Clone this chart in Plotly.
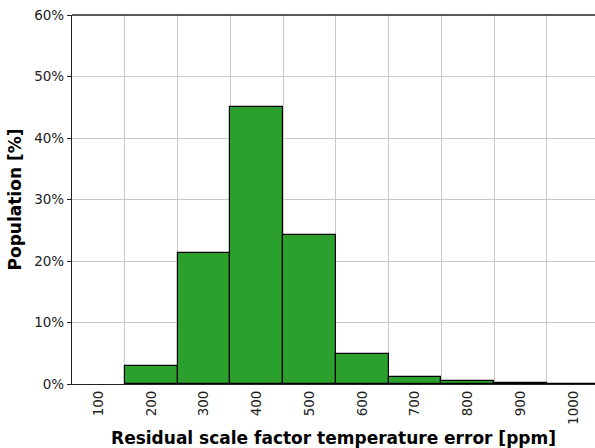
import plotly.graph_objects as go

bin_centers = [200, 300, 400, 500, 600, 700, 800, 900, 1000]
population_pct = [2.9, 21.3, 45.0, 24.3, 4.85, 1.15, 0.5, 0.2, 0.0]
x_ticks = [100, 200, 300, 400, 500, 600, 700, 800, 900, 1000]
y_ticks = [0, 10, 20, 30, 40, 50, 60]
y_tick_labels = ["0%", "10%", "20%", "30%", "40%", "50%", "60%"]

font_family = "DejaVu Sans"

fig = go.Figure()
fig.add_trace(go.Bar(
    x=bin_centers, y=population_pct, width=100,
    marker=dict(color="#2ca02c", line=dict(color="black", width=1.2)),
))

fig.update_layout(
    width=595, height=448,
    margin=dict(l=72, r=0, t=15, b=64),
    paper_bgcolor="white", plot_bgcolor="white",
    showlegend=False,
    font=dict(family=font_family, color="#222", size=13),
    bargap=0,
)
fig.update_xaxes(
    range=[50, 1041],
    tickvals=x_ticks, ticktext=[str(v) for v in x_ticks],
    tickangle=-90,
    showgrid=False,
    minor=dict(tick0=150, dtick=100, showgrid=True, gridcolor="#c8c8c8", gridwidth=1, ticks=""),
    showline=True, linecolor="#222", linewidth=1.3,
    ticks="", zeroline=False,
    title=dict(text="<b>Residual scale factor temperature error [ppm]</b>",
               font=dict(size=17, color="black"), standoff=8),
    tickfont=dict(size=13.5),
)
fig.update_yaxes(
    range=[0, 60],
    tickvals=y_ticks, ticktext=y_tick_labels,
    showgrid=True, gridcolor="#c8c8c8", gridwidth=1,
    showline=True, linecolor="#222", linewidth=1.3,
    ticks="outside", ticklen=4, tickcolor="#222",
    zeroline=False,
    title=dict(text="<b>Population [%]</b>", font=dict(size=17, color="black"), standoff=8),
    tickfont=dict(size=13.5),
)
fig.add_shape(type="line", xref="paper", yref="paper", x0=0, x1=1, y0=1, y1=1,
              line=dict(color="#222", width=1.3))

fig.write_html("out.html")
